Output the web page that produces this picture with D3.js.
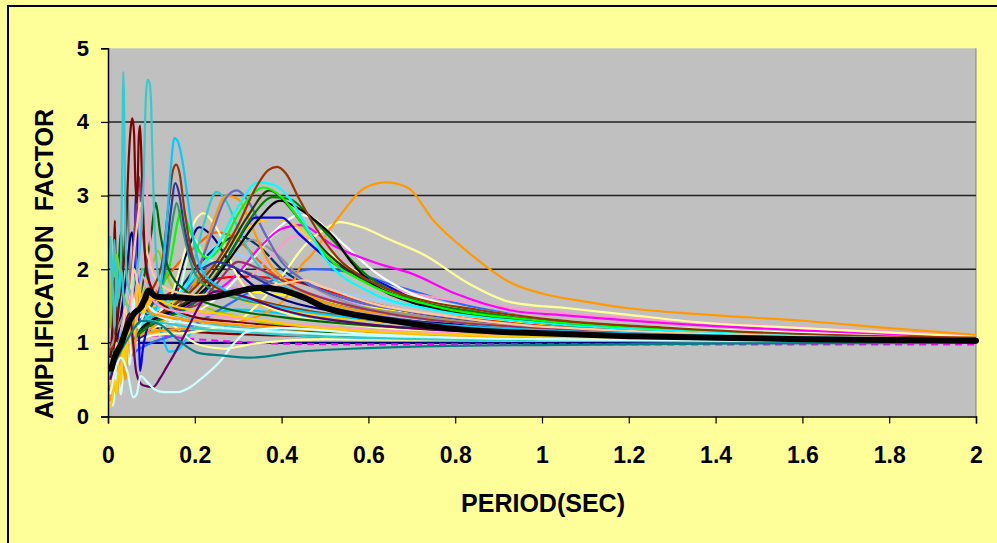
<!DOCTYPE html>
<html>
<head>
<meta charset="utf-8">
<script src="https://cdnjs.cloudflare.com/ajax/libs/d3/7.8.5/d3.min.js"></script>
<style>
body{margin:0;background:#fff;}
#sketch1{width:997px;height:543px;}
text{font-family:Arial,"Liberation Sans",sans-serif;font-weight:bold;fill:#000;}
</style>
</head>
<body>
<div id="sketch1"></div>
<script>
// axis ticks
var periodTicks = [0,0.2,0.4,0.6,0.8,1,1.2,1.4,1.6,1.8,2];
var ampTicks = [0,1,2,3,4,5];
var gridValues = [1,2,3,4];

// each record: [period (sec), amplification factor]
var s01 = [[0.005,2.4],[0.01,1.9],[0.015,1.2],[0.02,2.1],[0.025,1.6],[0.03,2.2],[0.033,3.6],[0.035,4.68],[0.037,4.3],[0.04,2.6],[0.043,1.9],[0.05,1.7],[0.06,1.5],[0.08,1.4],[0.1,1.3],[0.15,1.25],[0.2,1.2],[0.3,1.15],[0.5,1.08],[1,1.03],[2,1.01]];
var s02 = [[0.005,0.5],[0.02,0.9],[0.04,1.3],[0.06,1.8],[0.075,2.4],[0.082,3.2],[0.087,4.3],[0.091,4.57],[0.095,4.55],[0.099,4.3],[0.102,3.6],[0.106,2.8],[0.112,2.1],[0.12,1.8],[0.14,1.5],[0.18,1.35],[0.25,1.25],[0.4,1.15],[0.7,1.08],[1.2,1.04],[2,1.01]];
var s03 = [[0.005,0.3],[0.015,0.9],[0.025,1.5],[0.035,2.0],[0.042,2.6],[0.047,3.4],[0.052,3.9],[0.056,4.05],[0.06,3.85],[0.063,3.2],[0.067,2.9],[0.071,3.8],[0.074,3.95],[0.078,3.3],[0.082,2.6],[0.088,2.0],[0.1,1.75],[0.12,1.55],[0.15,1.45],[0.2,1.35],[0.3,1.28],[0.4,1.22],[0.6,1.14],[1,1.07],[2,1.02]];
var s04 = [[0.005,0.8],[0.012,1.5],[0.016,2.66],[0.019,1.4],[0.025,1.2],[0.035,1.5],[0.05,1.35],[0.08,1.25],[0.12,1.2],[0.2,1.15],[0.4,1.1],[0.8,1.05],[2,1.0]];
var s05 = [[0.005,0.3],[0.02,0.6],[0.04,0.9],[0.06,1.1],[0.08,1.3],[0.1,1.35],[0.12,1.7],[0.135,2.6],[0.145,3.4],[0.153,3.78],[0.162,3.72],[0.172,3.45],[0.185,2.9],[0.2,2.3],[0.22,1.95],[0.26,1.75],[0.32,1.6],[0.4,1.48],[0.55,1.35],[0.75,1.25],[1,1.17],[1.5,1.09],[2,1.04]];
var s06 = [[0.005,0.6],[0.03,1.0],[0.06,1.3],[0.1,1.7],[0.125,2.1],[0.14,2.9],[0.15,3.35],[0.157,3.42],[0.165,3.3],[0.175,2.85],[0.19,2.3],[0.21,1.95],[0.25,1.75],[0.3,1.65],[0.4,1.5],[0.6,1.32],[1,1.14],[2,1.03]];
var s07 = [[0.005,0.4],[0.03,0.8],[0.06,1.2],[0.1,1.5],[0.13,2.0],[0.145,2.8],[0.155,3.17],[0.163,3.05],[0.175,2.6],[0.19,2.2],[0.21,2.0],[0.25,2.1],[0.3,2.0],[0.4,1.7],[0.5,1.5],[0.7,1.3],[1,1.15],[2,1.03]];
var s08 = [[0.005,0.9],[0.05,1.2],[0.1,1.35],[0.15,1.5],[0.2,1.75],[0.25,2.1],[0.3,2.6],[0.34,3.1],[0.37,3.35],[0.39,3.39],[0.41,3.3],[0.44,2.96],[0.48,2.55],[0.53,2.15],[0.6,1.85],[0.7,1.62],[0.85,1.45],[1,1.33],[1.3,1.2],[1.6,1.12],[2,1.07]];
var s09 = [[0.005,0.9],[0.05,1.05],[0.1,1.15],[0.2,1.2],[0.3,1.28],[0.36,1.4],[0.4,1.55],[0.42,1.7],[0.44,2.0],[0.47,2.2],[0.5,2.45],[0.54,2.77],[0.59,3.1],[0.64,3.18],[0.69,3.11],[0.75,2.66],[0.83,2.23],[0.93,1.81],[1,1.67],[1.1,1.56],[1.2,1.47],[1.36,1.39],[1.6,1.3],[1.8,1.2],[2,1.11]];
var s10 = [[0.005,0.4],[0.05,0.9],[0.1,1.1],[0.2,1.15],[0.3,1.3],[0.35,1.55],[0.4,1.9],[0.45,2.3],[0.5,2.55],[0.535,2.64],[0.58,2.58],[0.65,2.4],[0.73,2.19],[0.83,1.81],[0.93,1.55],[1.06,1.47],[1.2,1.38],[1.36,1.28],[1.6,1.2],[1.8,1.14],[2,1.08]];
var s11 = [[0.005,0.5],[0.05,1.0],[0.1,1.3],[0.2,1.55],[0.25,1.7],[0.3,1.95],[0.35,2.3],[0.4,2.55],[0.442,2.6],[0.52,2.32],[0.62,2.08],[0.7,1.94],[0.8,1.67],[0.93,1.44],[1.06,1.37],[1.36,1.24],[1.6,1.17],[1.8,1.12],[2,1.07]];
var s12 = [[0.005,0.6],[0.05,1.1],[0.1,1.2],[0.2,1.4],[0.3,1.9],[0.35,2.3],[0.4,2.6],[0.44,2.74],[0.47,2.7],[0.5,2.57],[0.55,2.3],[0.62,1.94],[0.7,1.67],[0.8,1.48],[0.93,1.32],[1.1,1.25],[1.4,1.17],[2,1.06]];
var s13 = [[0.005,0.4],[0.05,1.1],[0.1,1.3],[0.2,1.5],[0.3,1.75],[0.38,2.2],[0.43,2.45],[0.48,2.4],[0.56,2.0],[0.65,1.75],[0.75,1.62],[0.9,1.5],[1.1,1.38],[1.4,1.27],[1.7,1.18],[2,1.1]];
var s14 = [[0.005,0.9],[0.05,1.1],[0.1,1.3],[0.2,1.6],[0.25,1.9],[0.3,2.3],[0.35,2.7],[0.396,2.93],[0.435,2.84],[0.48,2.65],[0.52,2.43],[0.56,2.1],[0.61,1.8],[0.7,1.55],[0.8,1.42],[1,1.27],[1.4,1.13],[2,1.05]];
var s15 = [[0.005,0.7],[0.05,1.0],[0.1,1.25],[0.2,1.55],[0.28,2.2],[0.33,2.7],[0.38,2.98],[0.42,2.95],[0.46,2.75],[0.52,2.38],[0.6,1.9],[0.7,1.6],[0.85,1.42],[1,1.3],[1.4,1.15],[2,1.05]];
var s16 = [[0.005,0.7],[0.05,1.1],[0.1,1.5],[0.14,2.0],[0.17,2.8],[0.19,2.5],[0.21,2.25],[0.23,2.15],[0.26,2.3],[0.3,2.75],[0.33,3.0],[0.357,3.11],[0.4,2.98],[0.45,2.6],[0.5,2.2],[0.6,1.8],[0.75,1.5],[1,1.3],[1.4,1.15],[2,1.05]];
var s17 = [[0.005,0.3],[0.03,0.8],[0.06,1.1],[0.1,1.4],[0.15,1.6],[0.2,1.9],[0.25,2.3],[0.3,2.85],[0.346,3.18],[0.38,3.15],[0.42,2.95],[0.46,2.55],[0.5,2.15],[0.6,1.7],[0.75,1.45],[1,1.27],[1.4,1.14],[2,1.04]];
var s18 = [[0.005,0.35],[0.03,0.8],[0.05,1.1],[0.06,2.0],[0.065,3.05],[0.07,1.5],[0.074,0.62],[0.08,0.9],[0.1,1.3],[0.15,1.4],[0.2,1.55],[0.25,1.9],[0.3,2.4],[0.34,2.7],[0.4,2.7],[0.44,2.48],[0.52,2.08],[0.62,1.84],[0.75,1.48],[0.9,1.35],[1,1.3],[1.4,1.15],[2,1.05]];
var s19 = [[0.005,0.5],[0.05,1.0],[0.1,1.3],[0.15,1.5],[0.2,1.9],[0.24,2.5],[0.27,2.95],[0.297,3.07],[0.32,2.95],[0.36,2.5],[0.4,2.1],[0.45,1.85],[0.55,1.6],[0.7,1.42],[1,1.22],[1.4,1.12],[2,1.04]];
var s20 = [[0.005,0.6],[0.05,1.0],[0.1,1.3],[0.15,1.5],[0.19,1.9],[0.22,2.6],[0.25,3.05],[0.27,2.95],[0.3,2.55],[0.34,2.1],[0.4,1.8],[0.5,1.55],[0.7,1.35],[1,1.18],[1.5,1.08],[2,1.03]];
var s21 = [[0.005,0.2],[0.03,0.6],[0.06,1.0],[0.1,1.2],[0.15,1.4],[0.2,1.8],[0.24,2.6],[0.273,3.0],[0.3,2.95],[0.33,2.6],[0.37,2.1],[0.42,1.8],[0.5,1.55],[0.7,1.35],[1,1.2],[2,1.05]];
var s22 = [[0.005,0.7],[0.05,1.0],[0.1,1.3],[0.2,1.65],[0.27,2.2],[0.32,2.7],[0.373,3.07],[0.41,2.9],[0.45,2.6],[0.5,2.25],[0.6,1.82],[0.75,1.5],[1,1.3],[1.4,1.15],[2,1.05]];
var s23 = [[0.005,0.3],[0.05,0.9],[0.1,1.3],[0.15,1.7],[0.18,2.3],[0.2,2.65],[0.22,2.76],[0.24,2.65],[0.26,2.45],[0.29,2.0],[0.33,1.65],[0.4,1.42],[0.6,1.22],[1,1.1],[2,1.02]];
var s24 = [[0.005,0.2],[0.04,0.8],[0.08,1.4],[0.1,1.6],[0.15,1.25],[0.2,1.0],[0.235,0.94],[0.27,0.92],[0.31,0.96],[0.35,1.0],[0.5,1.05],[1,1.03],[2,1.01]];
var s25 = [[0.005,0.15],[0.01,0.3],[0.02,0.6],[0.03,0.9],[0.05,1.3],[0.08,1.6],[0.1,1.5],[0.12,1.5],[0.16,1.6],[0.2,1.75],[0.25,2.1],[0.3,2.45],[0.34,2.62],[0.38,2.69],[0.43,2.6],[0.48,2.35],[0.55,2.0],[0.65,1.7],[0.8,1.45],[1,1.28],[1.4,1.14],[2,1.05]];
var s26 = [[0.005,0.2],[0.02,0.5],[0.04,1.0],[0.06,1.5],[0.08,2.0],[0.095,1.6],[0.11,1.15],[0.12,1.13],[0.135,1.3],[0.16,1.6],[0.2,1.8],[0.25,1.75],[0.3,1.6],[0.4,1.45],[0.6,1.3],[1,1.15],[2,1.04]];
var s27 = [[0.005,0.9],[0.03,1.3],[0.06,1.6],[0.1,1.5],[0.15,1.6],[0.2,1.85],[0.25,2.1],[0.3,2.3],[0.33,2.4],[0.38,2.25],[0.45,1.85],[0.55,1.55],[0.7,1.38],[1,1.2],[2,1.04]];
var s28 = [[0.005,0.5],[0.05,1.0],[0.1,1.2],[0.15,1.4],[0.2,2.4],[0.22,2.2],[0.3,2.0],[0.38,2.45],[0.42,2.6],[0.48,2.35],[0.55,2.05],[0.7,1.65],[0.85,1.45],[1,1.33],[1.4,1.18],[2,1.07]];
var s29 = [[0.005,0.6],[0.05,1.2],[0.1,1.5],[0.15,1.7],[0.2,1.8],[0.3,1.9],[0.4,1.87],[0.5,1.72],[0.6,1.55],[0.7,1.42],[0.8,1.35],[1,1.23],[1.5,1.1],[2,1.04]];
var s30 = [[0.005,0.5],[0.02,1.0],[0.04,1.8],[0.055,2.5],[0.06,2.2],[0.065,1.4],[0.07,1.0],[0.1,1.0],[0.5,1.0],[1,1.0],[2,1.0]];
var s31 = [[0.005,0.4],[0.04,1.2],[0.07,1.6],[0.1,1.4],[0.14,1.5],[0.18,2.2],[0.21,2.57],[0.24,2.45],[0.28,2.1],[0.33,1.8],[0.4,1.6],[0.55,1.4],[0.8,1.25],[1,1.18],[2,1.04]];
var s32 = [[0.005,0.6],[0.04,1.0],[0.08,1.3],[0.12,1.25],[0.15,1.1],[0.17,1.0],[0.21,0.86],[0.26,0.83],[0.33,0.8],[0.44,0.88],[0.56,0.92],[0.79,0.96],[1,0.97],[1.4,0.99],[2,1.0]];
var s33 = [[0.005,0.3],[0.03,0.8],[0.045,0.6],[0.058,0.26],[0.066,0.3],[0.075,0.55],[0.09,0.47],[0.11,0.36],[0.13,0.33],[0.16,0.33],[0.19,0.4],[0.21,0.49],[0.26,0.76],[0.29,0.99],[0.32,1.15],[0.4,1.2],[0.6,1.12],[1,1.05],[2,1.02]];
var s34 = [[0.005,0.5],[0.03,1.0],[0.05,1.4],[0.058,1.0],[0.065,0.6],[0.075,0.45],[0.082,0.42],[0.104,0.4],[0.12,0.52],[0.135,0.67],[0.15,0.82],[0.166,0.99],[0.185,1.21],[0.21,1.5],[0.25,1.7],[0.3,1.65],[0.4,1.45],[0.6,1.25],[1,1.12],[2,1.03]];
var s35 = [[0.005,0.3],[0.03,0.7],[0.06,1.2],[0.08,2.0],[0.095,1.8],[0.11,1.4],[0.125,1.1],[0.14,0.88],[0.16,0.9],[0.18,1.05],[0.2,1.2],[0.25,1.4],[0.3,1.45],[0.4,1.4],[0.6,1.25],[1,1.12],[2,1.03]];
var s36 = [[0.005,1.2],[0.01,2.0],[0.015,1.9],[0.02,2.2],[0.03,1.8],[0.05,1.5],[0.07,1.55],[0.09,1.8],[0.1,2.0],[0.115,2.25],[0.13,2.0],[0.15,1.75],[0.2,1.55],[0.3,1.35],[0.5,1.2],[1,1.08],[2,1.02]];
var s37 = [[0.005,0.4],[0.05,1.0],[0.1,1.1],[0.2,1.05],[0.4,0.99],[0.6,0.98],[1,0.98],[2,0.98]];
var s38 = [[0.005,0.4],[0.05,1.1],[0.1,1.35],[0.2,1.6],[0.3,1.75],[0.4,1.75],[0.5,1.62],[0.7,1.42],[1,1.24],[1.5,1.12],[2,1.05]];
var s39 = [[0.005,0.5],[0.03,1.0],[0.05,1.6],[0.065,2.5],[0.075,2.9],[0.085,2.4],[0.1,2.0],[0.12,1.8],[0.15,1.7],[0.2,1.65],[0.3,1.7],[0.4,1.8],[0.45,1.85],[0.5,1.75],[0.6,1.55],[0.8,1.35],[1,1.22],[2,1.05]];
var s40 = [[0.005,0.3],[0.05,1.0],[0.1,1.3],[0.2,1.6],[0.3,1.7],[0.4,1.65],[0.5,1.55],[0.6,1.48],[0.8,1.35],[1,1.25],[1.5,1.12],[2,1.04]];
var s41 = [[0.005,0.3],[0.05,0.8],[0.1,1.0],[0.15,1.1],[0.2,1.25],[0.3,1.6],[0.4,1.9],[0.47,2.0],[0.55,1.97],[0.65,1.8],[0.75,1.62],[0.9,1.42],[1,1.32],[1.4,1.15],[2,1.05]];
var s42 = [[0.005,0.4],[0.03,0.9],[0.05,1.3],[0.07,2.0],[0.078,2.9],[0.085,3.3],[0.09,3.0],[0.1,2.2],[0.12,1.65],[0.15,1.45],[0.2,1.35],[0.4,1.22],[1,1.08],[2,1.02]];
var s43 = [[0.005,0.5],[0.03,1.0],[0.05,1.6],[0.065,2.8],[0.072,3.25],[0.078,2.7],[0.09,2.0],[0.11,1.6],[0.15,1.45],[0.2,1.5],[0.25,1.8],[0.3,2.1],[0.35,2.0],[0.45,1.7],[0.6,1.45],[1,1.2],[2,1.04]];
var s44 = [[0.005,0.6],[0.05,1.1],[0.1,1.5],[0.13,1.9],[0.15,2.7],[0.158,2.9],[0.17,2.6],[0.19,2.1],[0.22,1.8],[0.3,1.6],[0.4,1.5],[0.5,1.4],[0.7,1.25],[1,1.12],[2,1.03]];
var s45 = [[0.005,0.4],[0.05,1.2],[0.1,1.6],[0.15,2.0],[0.2,2.3],[0.25,2.5],[0.3,2.4],[0.35,2.1],[0.4,1.85],[0.5,1.6],[0.7,1.38],[1,1.2],[2,1.04]];
var s46 = [[0.005,0.4],[0.05,0.9],[0.1,1.2],[0.15,1.6],[0.2,2.0],[0.25,2.3],[0.3,2.45],[0.35,2.3],[0.4,2.0],[0.5,1.7],[0.7,1.42],[1,1.22],[2,1.05]];
var s47 = [[0.005,0.2],[0.03,0.7],[0.06,1.5],[0.08,2.3],[0.1,1.9],[0.15,1.6],[0.2,2.0],[0.25,2.3],[0.3,2.2],[0.4,1.95],[0.5,1.75],[0.7,1.5],[1,1.28],[1.5,1.13],[2,1.05]];
var s48 = [[0.005,0.8],[0.02,1.4],[0.03,2.5],[0.035,1.6],[0.05,1.3],[0.1,1.4],[0.15,1.35],[0.2,1.3],[0.3,1.25],[0.5,1.15],[1,1.06],[2,1.02]];
var s49 = [[0.005,0.9],[0.02,1.4],[0.035,2.0],[0.045,3.0],[0.05,2.0],[0.06,1.5],[0.1,1.35],[0.2,1.3],[0.4,1.2],[1,1.08],[2,1.02]];
var s50 = [[0.005,0.5],[0.05,1.0],[0.1,1.2],[0.15,1.4],[0.2,1.8],[0.25,2.05],[0.3,2.0],[0.4,1.75],[0.5,1.55],[0.7,1.35],[1,1.18],[2,1.04]];
var s51 = [[0.005,0.12],[0.01,0.25],[0.015,0.5],[0.02,0.3],[0.025,0.7],[0.03,0.45],[0.035,1.0],[0.04,0.7],[0.05,1.4],[0.06,1.1],[0.07,1.8],[0.08,1.4],[0.1,1.6],[0.15,1.5],[0.25,1.4],[0.5,1.2],[1,1.08],[2,1.02]];
var s52 = [[0.005,0.2],[0.012,0.15],[0.02,0.6],[0.03,0.3],[0.04,1.1],[0.05,0.7],[0.06,1.6],[0.07,1.2],[0.09,1.5],[0.12,1.35],[0.2,1.25],[0.4,1.15],[1,1.05],[2,1.01]];
var s53 = [[0.005,2.45],[0.01,1.8],[0.015,2.4],[0.02,1.5],[0.03,2.0],[0.04,1.4],[0.06,1.6],[0.08,1.45],[0.12,1.35],[0.2,1.25],[0.4,1.15],[1,1.05],[2,1.02]];
var s54 = [[0.005,0.5],[0.01,0.3],[0.02,1.0],[0.03,0.6],[0.04,1.5],[0.05,1.0],[0.06,2.0],[0.075,1.6],[0.1,1.45],[0.15,1.35],[0.3,1.25],[0.6,1.15],[1,1.08],[2,1.02]];
var s55 = [[0.005,0.2],[0.01,0.5],[0.02,0.3],[0.03,0.9],[0.04,0.5],[0.05,1.3],[0.06,0.8],[0.07,1.7],[0.1,1.4],[0.2,1.3],[0.4,1.2],[1,1.07],[2,1.02]];
var s56 = [[0.005,0.6],[0.04,1.2],[0.08,1.8],[0.1,2.5],[0.11,2.9],[0.12,2.5],[0.14,2.0],[0.18,1.7],[0.25,1.5],[0.4,1.35],[0.7,1.2],[1,1.12],[2,1.03]];
var s57 = [[0.005,0.3],[0.015,0.7],[0.025,0.4],[0.035,1.2],[0.045,0.8],[0.055,1.7],[0.065,1.3],[0.08,1.9],[0.1,1.6],[0.14,1.45],[0.2,1.4],[0.35,1.3],[0.6,1.18],[1,1.1],[2,1.03]];

// average of all records
var meanCurve = [[0.008,0.65],[0.015,0.8],[0.02,0.87],[0.03,0.98],[0.04,1.15],[0.05,1.3],[0.06,1.4],[0.075,1.48],[0.085,1.6],[0.093,1.71],[0.1,1.68],[0.11,1.63],[0.13,1.62],[0.16,1.62],[0.2,1.6],[0.25,1.63],[0.3,1.7],[0.35,1.75],[0.4,1.72],[0.45,1.62],[0.5,1.48],[0.55,1.4],[0.6,1.35],[0.7,1.26],[0.8,1.19],[0.9,1.15],[1.0,1.13],[1.2,1.09],[1.4,1.07],[1.6,1.05],[1.8,1.04],[2.0,1.03]];

var records = [s48,s49,s04,s30,s37,s38,s40,s29,s26,s35,s24,s36,s41,s47,s50,s46,s45,s27,s28,s13,s12,s11,s10,s09,s31,s23,s20,s21,s19,s25,s18,s22,s15,s14,s16,s17,s08,s44,s56,s43,s42,s39,s07,s06,s05,s03,s02,s01,s53,s57,s54,s52,s55,s51,s34,s33,s32];
var recordColors = ["#006600","#808080","#800000","#000080","#FF00FF","#CC99FF","#FFFF00","#FF0000","#FFCC00","#00CCFF","#FFFF99","#99CC00","#3366FF","#99CCFF","#666699","#003366","#FF6600","#969696","#CCFFCC","#FF99CC","#FFFFFF","#FF00FF","#FFFF99","#FF9900","#000080","#FFFF99","#33CCCC","#FF9900","#6666CC","#FFCC00","#0000FF","#333300","#008000","#000000","#00FF00","#00FFFF","#993300","#339966","#006600","#993366","#FF99CC","#FFCC99","#333399","#993300","#00CCFF","#800000","#33CCCC","#33CCCC","#33CCCC","#FF99CC","#FFCC99","#CCFFFF","#FF9900","#FFCC00","#660066","#CCFFFF","#008080"];

var W = 997, H = 543;
var plot = {l:108, r:976, t:48.3, b:416.5};

var svg = d3.select('#sketch1')
    .append('svg')
    .attr('width', W)
    .attr('height', H);

// chart area
svg.append('rect')
    .attr('x', 0).attr('y', 0)
    .attr('width', W).attr('height', H)
    .attr('fill', '#FFFF99');
svg.append('rect')
    .attr('x', 8).attr('y', 6)
    .attr('width', W + 20).attr('height', H + 20)
    .attr('fill', 'none')
    .attr('stroke', '#000')
    .attr('stroke-width', 2);

var scaleX = d3.scaleLinear().domain([0, 2]).range([plot.l, plot.r]);
var scaleY = d3.scaleLinear().domain([0, 5]).range([plot.b, plot.t]);

svg.append('rect')
    .attr('x', plot.l).attr('y', plot.t)
    .attr('width', plot.r - plot.l).attr('height', plot.b - plot.t)
    .attr('fill', '#C0C0C0');

svg.append('line')
    .attr('x1', plot.r).attr('x2', plot.r)
    .attr('y1', plot.t).attr('y2', plot.b)
    .attr('stroke', '#808080').attr('stroke-width', 1);

svg.selectAll('.grid')
    .data(gridValues)
    .enter()
    .append('line')
    .attr('class', 'grid')
    .attr('x1', plot.l).attr('x2', plot.r)
    .attr('y1', function(d){return scaleY(d)})
    .attr('y2', function(d){return scaleY(d)})
    .attr('stroke', '#222')
    .attr('stroke-width', 1.5);

svg.append('clipPath')
    .attr('id', 'clip')
    .append('rect')
    .attr('x', plot.l).attr('y', plot.t - 2)
    .attr('width', plot.r - plot.l + 4).attr('height', plot.b - plot.t + 2);

var line = d3.line()
    .x(function(d){return scaleX(d[0])})
    .y(function(d){return scaleY(d[1])})
    .curve(d3.curveMonotoneX);

var lines = svg.append('g').attr('clip-path', 'url(#clip)');

lines.selectAll('.record')
    .data(records)
    .enter()
    .append('path')
    .attr('class', 'record')
    .attr('d', line)
    .attr('fill', 'none')
    .attr('stroke', function(d, i){return recordColors[i]})
    .attr('stroke-width', 2.2)
    .attr('stroke-dasharray', function(d){return d === s37 ? '7,5' : null})
    .attr('stroke-linejoin', 'round');

lines.append('path')
    .datum(meanCurve)
    .attr('d', line)
    .attr('fill', 'none')
    .attr('stroke', '#000')
    .attr('stroke-width', 6)
    .attr('stroke-linecap', 'round')
    .attr('stroke-linejoin', 'round');

// axes
var axisY = svg.append('g')
    .attr('transform', 'translate(' + plot.l + ',0)')
    .call(d3.axisLeft(scaleY).tickValues(ampTicks).tickSize(7).tickPadding(12).tickFormat(function(d){return d}));

var axisX = svg.append('g')
    .attr('transform', 'translate(0,' + plot.b + ')')
    .call(d3.axisBottom(scaleX).tickValues(periodTicks).tickSize(7).tickPadding(23).tickFormat(function(d){return d}));

axisY.select('.domain').attr('stroke', '#000').attr('stroke-width', 1.5);
axisX.select('.domain').attr('stroke', '#000').attr('stroke-width', 1.5);
svg.selectAll('.tick line').attr('stroke', '#000').attr('stroke-width', 1.2);
axisY.selectAll('text')
    .style('font-family', 'Arial, "Liberation Sans", sans-serif')
    .style('font-weight', 'bold')
    .style('font-size', '22px')
    .attr('fill', '#000');
axisX.selectAll('text')
    .style('font-family', 'Arial, "Liberation Sans", sans-serif')
    .style('font-weight', 'bold')
    .style('font-size', '23px')
    .attr('fill', '#000');

// titles
svg.append('text')
    .attr('transform', 'translate(53,264) rotate(-90)')
    .attr('text-anchor', 'middle')
    .style('font-size', '25px')
    .style('white-space', 'pre')
    .text('AMPLIFICATION  FACTOR');

svg.append('text')
    .attr('x', 543)
    .attr('y', 512)
    .attr('text-anchor', 'middle')
    .style('font-size', '25px')
    .text('PERIOD(SEC)');
</script>
</body>
</html>
